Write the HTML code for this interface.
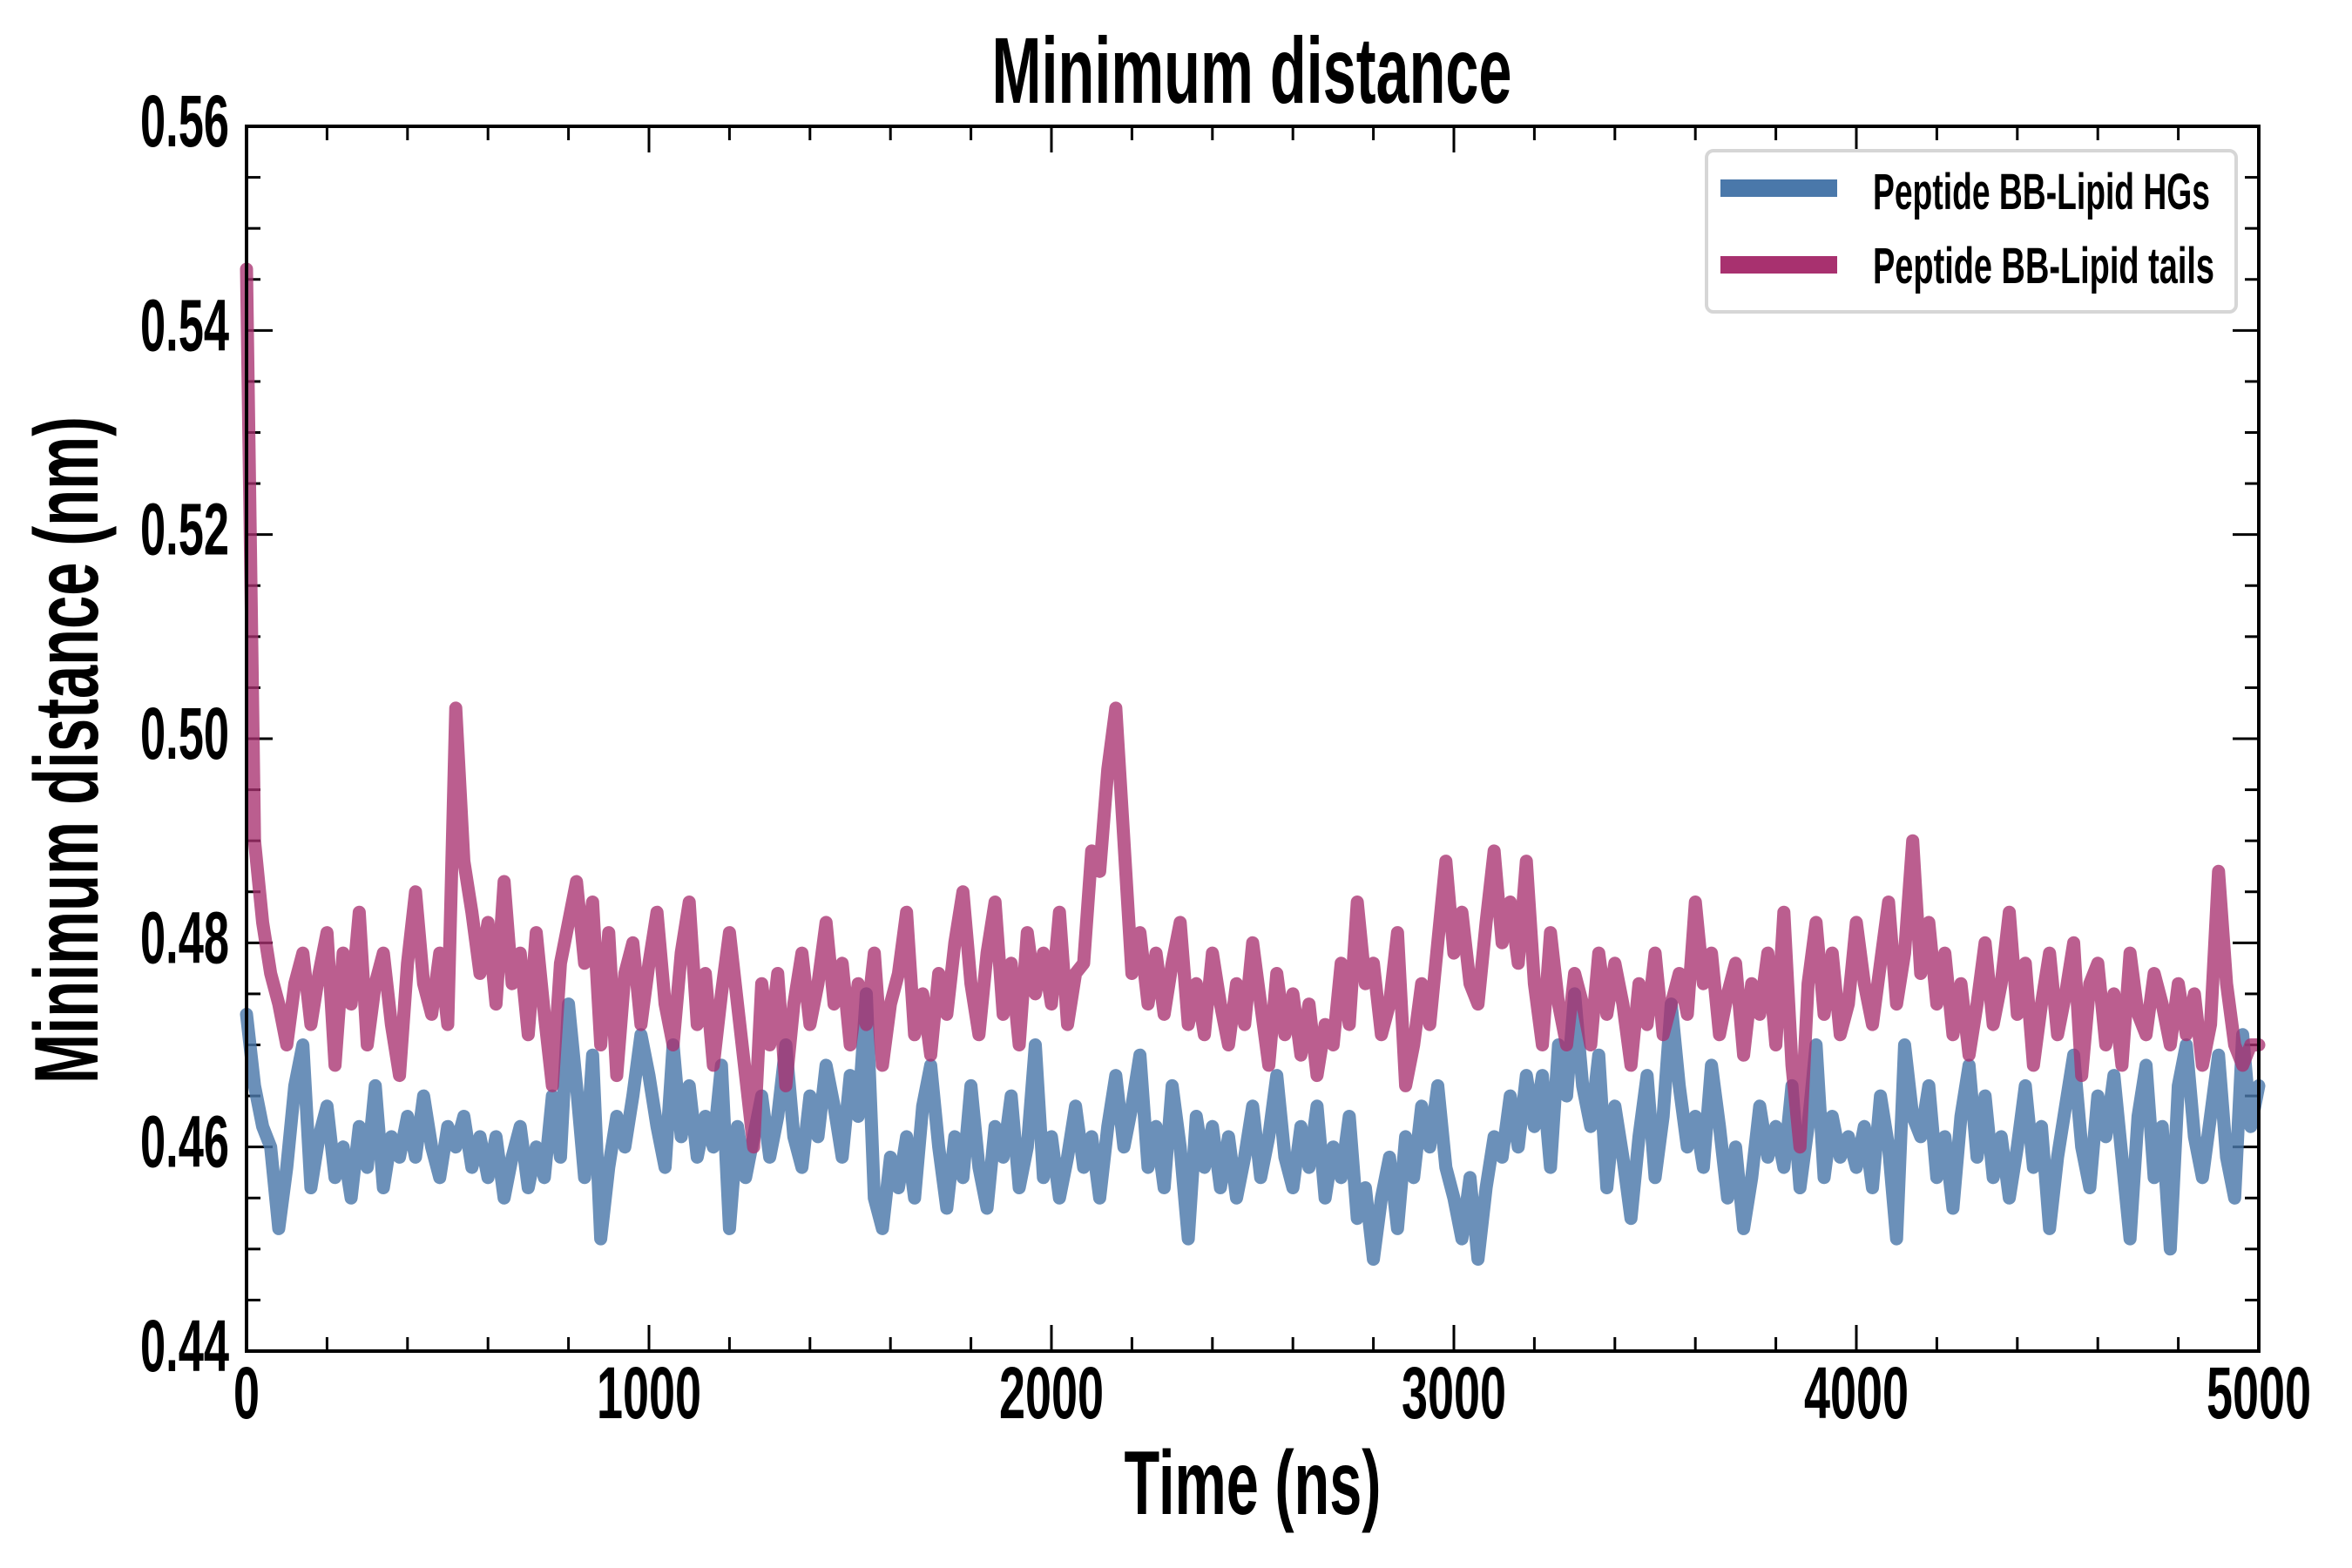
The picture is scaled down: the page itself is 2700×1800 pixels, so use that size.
<!DOCTYPE html>
<html><head><meta charset="utf-8"><style>
html,body{margin:0;padding:0;background:#fff;}
svg{display:block;}
text{font-family:"Liberation Sans Narrow","Liberation Sans",sans-serif;font-weight:bold;fill:#000;}
</style></head><body>
<svg id="chart" width="2700" height="1800" viewBox="0 0 2700 1800" xmlns="http://www.w3.org/2000/svg">
<g id="ticks"></g>
<g id="series"></g>
<rect x="283" y="145" width="2310" height="1406" fill="none" stroke="#000" stroke-width="4"/>
<g id="labels"></g>
<text x="1437" y="118" font-size="108" text-anchor="middle" textLength="597" lengthAdjust="spacingAndGlyphs">Minimum distance</text>
<text x="1438" y="1738" font-size="104" text-anchor="middle" textLength="295" lengthAdjust="spacingAndGlyphs">Time (ns)</text>
<text transform="translate(112,861) rotate(-90)" x="0" y="0" font-size="104" text-anchor="middle" textLength="766" lengthAdjust="spacingAndGlyphs">Minimum distance (nm)</text>
<g>
<rect x="1959" y="173" width="608" height="185" rx="8" fill="#fff" fill-opacity="0.8" stroke="#d6d6d6" stroke-width="4"/>
<line x1="1975" y1="216" x2="2109" y2="216" stroke="#4a78aa" stroke-width="20"/>
<text x="2150" y="240" font-size="58" textLength="387" lengthAdjust="spacingAndGlyphs">Peptide BB-Lipid HGs</text>
<line x1="1975" y1="304" x2="2109" y2="304" stroke="#a8316f" stroke-width="20"/>
<text x="2150" y="325" font-size="58" textLength="392" lengthAdjust="spacingAndGlyphs">Peptide BB-Lipid tails</text>
</g>
</svg>
<script>
const timeStep = 20;
const hgsValues = [
.473,.466,.462,.460,.452,.458,.466,.470,.456,.461,
.464,.457,.460,.455,.462,.458,.466,.456,.461,.459,
.463,.459,.465,.460,.457,.462,.460,.463,.458,.461,
.457,.461,.455,.459,.462,.456,.460,.457,.465,.459,
.474,.466,.457,.469,.451,.458,.463,.460,.465,.471,
.467,.462,.458,.470,.461,.466,.459,.463,.460,.468,
.452,.462,.457,.461,.465,.459,.463,.470,.461,.458,
.465,.461,.468,.464,.459,.467,.463,.475,.455,.452,
.459,.456,.461,.455,.464,.468,.460,.454,.461,.457,
.466,.458,.454,.462,.459,.465,.456,.460,.470,.457,
.461,.455,.459,.464,.458,.461,.455,.462,.467,.460,
.464,.469,.458,.462,.456,.466,.460,.451,.463,.458,
.462,.456,.461,.455,.459,.464,.457,.461,.467,.459,
.456,.462,.458,.464,.455,.460,.457,.463,.453,.456,
.449,.455,.459,.452,.461,.457,.464,.460,.466,.458,
.455,.451,.457,.449,.456,.461,.459,.465,.460,.467,
.462,.467,.458,.470,.465,.475,.466,.462,.469,.456,
.464,.459,.453,.461,.467,.457,.463,.474,.466,.460,
.463,.458,.468,.462,.455,.460,.452,.457,.464,.459,
.462,.458,.466,.456,.462,.470,.457,.463,.459,.461,
.458,.462,.456,.465,.460,.451,.470,.463,.461,.466,
.457,.461,.454,.463,.468,.459,.465,.457,.461,.455,
.460,.466,.458,.462,.452,.459,.464,.469,.460,.456,
.465,.461,.467,.459,.451,.463,.468,.457,.462,.450,
.466,.470,.461,.457,.463,.469,.459,.455,.471,.462,
.466];
const tailsValues = [
.546,.490,.482,.477,.474,.470,.476,.479,.472,.477,
.481,.468,.479,.474,.483,.470,.476,.479,.472,.467,
.478,.485,.476,.473,.479,.472,.503,.488,.483,.477,
.482,.474,.486,.476,.479,.471,.481,.473,.466,.478,
.482,.486,.478,.484,.470,.481,.467,.477,.480,.472,
.478,.483,.474,.470,.479,.484,.472,.477,.468,.475,
.481,.474,.467,.460,.476,.470,.477,.466,.474,.479,
.472,.476,.482,.474,.478,.470,.476,.472,.479,.468,
.474,.477,.483,.471,.475,.469,.477,.473,.480,.485,
.476,.471,.479,.484,.473,.478,.470,.481,.475,.479,
.474,.483,.472,.477,.478,.489,.487,.497,.503,.490,
.477,.481,.474,.479,.473,.478,.482,.472,.476,.471,
.479,.474,.470,.476,.472,.480,.474,.468,.477,.471,
.475,.469,.474,.467,.472,.470,.478,.472,.484,.476,
.478,.471,.474,.481,.466,.470,.476,.472,.480,.488,
.479,.483,.476,.474,.482,.489,.480,.484,.478,.488,
.476,.470,.481,.474,.470,.477,.474,.470,.479,.473,
.478,.474,.468,.476,.472,.479,.471,.474,.477,.473,
.484,.476,.479,.471,.475,.478,.469,.476,.473,.479,
.470,.483,.468,.460,.476,.482,.473,.479,.471,.474,
.482,.476,.472,.478,.484,.474,.479,.490,.477,.482,
.474,.479,.471,.476,.469,.474,.480,.472,.476,.483,
.473,.478,.468,.474,.479,.471,.475,.480,.467,.476,
.478,.470,.475,.468,.479,.473,.471,.477,.474,.470,
.476,.471,.475,.468,.472,.487,.476,.470,.468,.470,
.470];
const xTickLabels = ["0","1000","2000","3000","4000","5000"];
const yTickLabels = ["0.44","0.46","0.48","0.50","0.52","0.54","0.56"];

const L=283,R=2593,T=145,B=1551, X0=0,X1=5000,Y0=0.44,Y1=0.56;
const xs=v=>L+(v-X0)/(X1-X0)*(R-L);
const ys=v=>B-(v-Y0)/(Y1-Y0)*(B-T);
const NS="http://www.w3.org/2000/svg";
const ticks=document.getElementById('ticks'), labels=document.getElementById('labels'), series=document.getElementById('series');
function mk(tag,attrs,parent){const e=document.createElementNS(NS,tag);for(const k in attrs)e.setAttribute(k,attrs[k]);parent.appendChild(e);return e;}

for(let t=0;t<=5000;t+=200){
  const major=t%1000===0, len=major?30:16, x=xs(t);
  const a=mk('line',{x1:x,x2:x,y1:B,y2:B-len,stroke:'#000','stroke-width':3},ticks);
  
  
  const b=mk('line',{x1:x,x2:x,y1:T,y2:T+len,stroke:'#000','stroke-width':3},ticks);
  
  
}
for(let i=0;i<=24;i++){
  const v=0.44+i*0.005, major=i%4===0, len=major?30:16, y=ys(v);
  const a=mk('line',{x1:L,x2:L+len,y1:y,y2:y,stroke:'#000','stroke-width':3},ticks);
  
  
  const b=mk('line',{x1:R,x2:R-len,y1:y,y2:y,stroke:'#000','stroke-width':3},ticks);
  
  
}
xTickLabels.forEach(s=>{
  const e=mk('text',{x:xs(+s),y:1628,'font-size':84,'text-anchor':'middle',textLength:s.length*30,lengthAdjust:'spacingAndGlyphs'},labels);
  e.textContent=s;
  
  
});
yTickLabels.forEach(s=>{
  const e=mk('text',{x:263,y:ys(+s)+23,'font-size':84,'text-anchor':'end',textLength:102,lengthAdjust:'spacingAndGlyphs'},labels);
  e.textContent=s;
  
  
});
function pathFor(vals){return vals.map((v,i)=>(i?'L':'M')+xs(i*timeStep).toFixed(1)+','+ys(v).toFixed(1)).join(' ');}
const p1=mk('path',{d:pathFor(hgsValues),fill:'none',stroke:'#4a78aa','stroke-opacity':0.82,'stroke-width':15,'stroke-linejoin':'round','stroke-linecap':'round'},series);


const p2=mk('path',{d:pathFor(tailsValues),fill:'none',stroke:'#a8316f','stroke-opacity':0.78,'stroke-width':15,'stroke-linejoin':'round','stroke-linecap':'round'},series);


</script>
</body></html>
